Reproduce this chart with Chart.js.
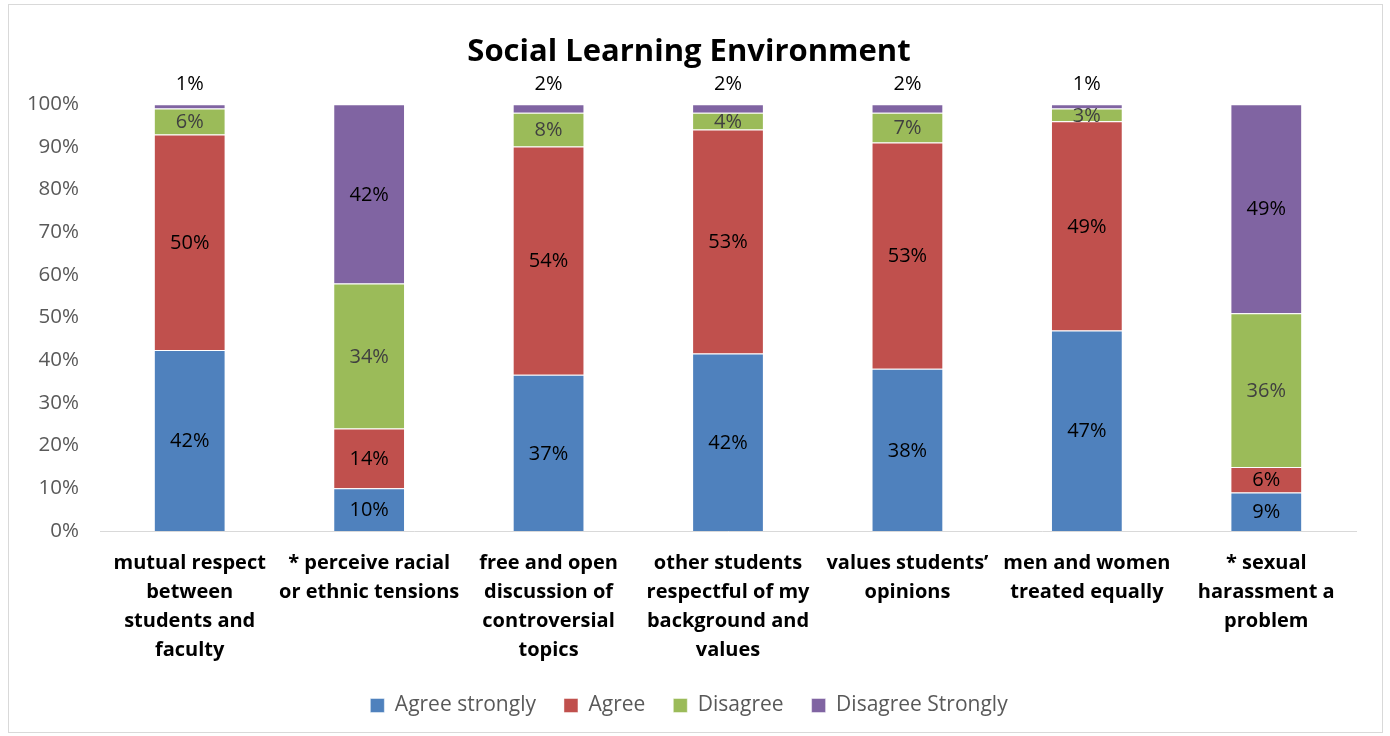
<!DOCTYPE html>
<html lang="en">
<head>
  <meta charset="UTF-8">
  <title>Social Learning Environment</title>
  <script src="https://cdn.jsdelivr.net/npm/chart.js"></script>
  <style>
    body { margin: 0; background: #fff; font-family: "Open Sans", sans-serif; }
    .frame { position: absolute; left: 8px; top: 4px; width: 1375px; height: 729px; border: 1px solid #d9d9d9; box-sizing: border-box; }
    .wrap { position: absolute; left: 0; top: 0; width: 1390px; height: 736px; }
  </style>
</head>
<body>
  <div class="frame"></div>
  <div class="wrap"><canvas id="chart"></canvas></div>
  <script>
    // Data
    const categories = [
      ['mutual respect', 'between', 'students and', 'faculty'],
      ['* perceive racial', 'or ethnic tensions'],
      ['free and open', 'discussion of', 'controversial', 'topics'],
      ['other students', 'respectful of my', 'background and', 'values'],
      ['values students\u2019', 'opinions'],
      ['men and women', 'treated equally'],
      ['* sexual', 'harassment a', 'problem']
    ];
    const agreeStrongly = [42, 10, 37, 42, 38, 47, 9];
    const agree = [50, 14, 54, 53, 53, 49, 6];
    const disagree = [6, 34, 8, 4, 7, 3, 36];
    const disagreeStrongly = [1, 42, 2, 2, 2, 1, 49];
    const yTicks = [0, 10, 20, 30, 40, 50, 60, 70, 80, 90, 100];

    const series = [
      { label: 'Agree strongly', values: agreeStrongly, color: '#4F81BD', text: '#000' },
      { label: 'Agree', values: agree, color: '#C0504D', text: '#000' },
      { label: 'Disagree', values: disagree, color: '#9BBB59', text: '#404040' },
      { label: 'Disagree Strongly', values: disagreeStrongly, color: '#8064A2', text: '#000' }
    ];

    // 100% stacked: normalise each column by its total
    const totals = categories.map((_, i) => series.reduce((s, d) => s + d.values[i], 0));

    const FONT = '"Open Sans", sans-serif';

    // Simple data labels
    const labelPlugin = {
      id: 'segLabels',
      afterDatasetsDraw(chart) {
        const ctx = chart.ctx;
        ctx.save();
        ctx.font = '20px ' + FONT;
        ctx.textAlign = 'center';
        ctx.textBaseline = 'middle';
        chart.data.datasets.forEach((ds, di) => {
          const meta = chart.getDatasetMeta(di);
          meta.data.forEach((bar, i) => {
            const raw = series[di].values[i];
            if (raw <= 2) {
              ctx.fillStyle = '#000';
              ctx.fillText(raw + '%', bar.x, chart.chartArea.top - 20);
            } else {
              ctx.fillStyle = series[di].text;
              ctx.fillText(raw + '%', bar.x, (bar.y + bar.base) / 2 + 1);
            }
          });
        });
        ctx.restore();
      }
    };

    new Chart(document.getElementById('chart'), {
      type: 'bar',
      data: {
        labels: categories,
        datasets: series.map(s => ({
          label: s.label,
          data: s.values.map((v, i) => v / totals[i] * 100),
          backgroundColor: s.color,
          borderColor: 'rgba(255,255,255,0.45)',
          borderWidth: 1,
          barPercentage: 0.4,
          categoryPercentage: 1
        }))
      },
      plugins: [labelPlugin],
      options: {
        responsive: true,
        maintainAspectRatio: false,
        animation: false,
        layout: { padding: { left: 22, right: 34, top: 12, bottom: 10 } },
        plugins: {
          title: {
            display: true,
            text: 'Social Learning Environment',
            color: '#000',
            font: { family: FONT, size: 31, weight: 'bold' },
            padding: { top: 22, bottom: 33 }
          },
          legend: {
            position: 'bottom',
            labels: {
              color: '#595959',
              font: { family: FONT, size: 21 },
              boxWidth: 14,
              boxHeight: 14,
              padding: 28
            }
          },
          tooltip: { enabled: false }
        },
        scales: {
          x: {
            stacked: true,
            grid: { display: false },
            border: { display: true, color: '#d9d9d9', width: 1 },
            afterFit(scale) { scale.height = 136; },
            ticks: {
              color: '#000',
              font: { family: FONT, size: 20, weight: 'bold', lineHeight: 29 / 20 },
              padding: 10,
              maxRotation: 0,
              autoSkip: false
            }
          },
          y: {
            stacked: true,
            min: 0,
            max: 100,
            grid: { display: false },
            border: { display: false },
            afterFit(scale) { scale.width = 78; },
            afterBuildTicks(scale) { scale.ticks = yTicks.map(v => ({ value: v })); },
            ticks: {
              color: '#595959',
              font: { family: FONT, size: 20.5 },
              padding: 13,
              callback: v => v + '%'
            }
          }
        }
      }
    });
  </script>
</body>
</html>
